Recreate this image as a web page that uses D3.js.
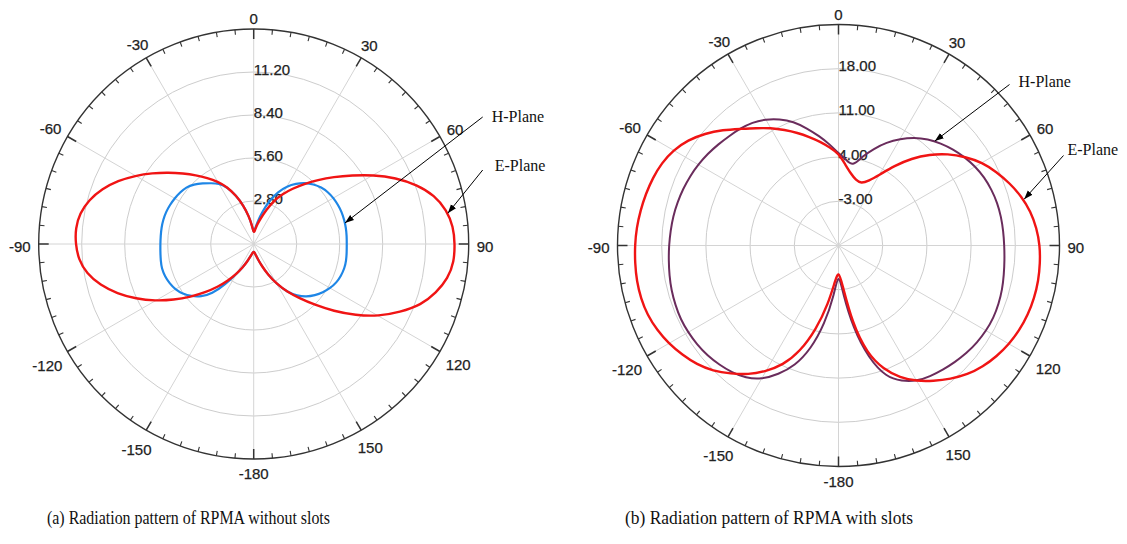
<!DOCTYPE html>
<html><head><meta charset="utf-8">
<script src="https://cdn.jsdelivr.net/npm/d3@7"></script>
<style>body{margin:0;background:#fff}svg{display:block}</style>
</head><body>
<svg id="chart" width="1127" height="544"></svg>
<script>
// Angles in degrees (0 = top, clockwise positive)
const angles = [-175,-170,-165,-160,-155,-150,-145,-140,-135,-130,-125,-120,-115,-110,-105,-100,-95,-90,
  -85,-80,-75,-70,-65,-60,-55,-50,-45,-40,-35,-30,-25,-20,-15,-10,-5,
  0,5,10,15,20,25,30,35,40,45,50,55,60,65,70,75,80,85,90,
  95,100,105,110,115,120,125,130,135,140,145,150,155,160,165,170,175,180];

// (a) without slots
const leftEPlane = [0.55,0.65,0.85,1.2,1.65,2.25,2.9,3.65,4.45,5.35,6.35,7.4,8.45,9.45,10.35,11.05,11.45,11.6,
  11.65,11.5,11.1,10.5,9.75,8.9,8.05,7.25,6.5,5.85,5.25,4.7,4.1,3.35,2.6,1.85,1.2,
  0.7,0.9,1.3,1.7,2.35,3.1,3.75,4.4,5.1,5.9,6.8,7.8,9.0,10.2,11.3,12.2,12.75,13.05,13.1,
  13.1,12.85,12.3,11.6,10.5,9.4,8.1,6.8,5.6,4.6,3.8,3.0,2.2,1.5,1.0,0.7,0.55,0.5];
const leftHPlane = [0.55,0.65,0.85,1.2,1.65,2.25,3.2,4.25,4.85,5.3,5.65,5.9,6.05,6.15,6.2,6.15,6.1,6.08,
  6.08,6.1,6.1,6.08,6.02,5.95,5.85,5.75,5.5,5.16,4.83,4.56,4.1,3.35,2.6,1.85,1.2,
  0.7,1.0,1.5,2.2,3.0,3.75,4.35,4.8,5.2,5.5,5.75,5.9,6.0,6.05,6.1,6.1,6.1,6.08,6.06,
  6.08,6.12,6.12,6.05,5.95,5.75,5.5,5.2,4.85,4.4,3.85,3.0,2.2,1.5,1.0,0.7,0.55,0.5];

// (b) with slots
const rightEPlane = [-4.6,-0.6,3.8,7.9,10.9,13.0,14.95,16.5,18.1,19.3,20.2,21.05,21.7,22.2,22.4,22.45,22.35,22.25,
  22.1,21.85,21.6,21.3,20.9,20.2,19.1,17.6,15.9,14.1,12.7,11.5,10.2,9.0,7.8,6.7,5.6,
  4.6,2.8,1.5,0.7,0.45,1.3,2.9,5.4,8.0,10.4,12.6,14.5,16.3,17.6,18.85,20.0,20.9,21.5,21.9,
  22.05,22.15,22.1,21.95,21.65,21.2,20.6,19.85,18.9,17.6,16.2,14.8,13.1,10.8,7.8,2.45,-4.25,-5.9];
const rightHPlane = [-2.2,2.6,7.0,10.3,12.5,14.5,15.6,16.25,16.7,17.1,17.35,17.5,17.6,17.5,17.4,17.2,17.0,16.85,
  16.7,16.6,16.4,16.2,15.95,15.65,15.3,14.9,14.5,14.2,13.8,13.1,12.1,10.9,9.2,7.6,6.1,
  4.6,3.7,2.7,4.6,6.3,8.0,9.5,10.9,12.0,12.9,13.7,14.4,15.0,15.5,15.8,16.05,16.15,16.2,16.26,
  16.4,16.6,16.85,17.0,17.1,17.0,16.8,16.5,16.1,15.7,15.3,14.8,13.7,12.2,8.5,3.3,-2.6,-5.85];

const leftRadialTicks = [2.8, 5.6, 8.4, 11.2];
const leftRadialLabels = ["2.80", "5.60", "8.40", "11.20"];
const rightRadialTicks = [-3, 4, 11, 18];
const rightRadialLabels = ["-3.00", "4.00", "11.00", "18.00"];
const angleTicks = [0, 30, 60, 90, 120, 150, 180, 210, 240, 270, 300, 330];
const angleTickLabels = ["0", "30", "60", "90", "120", "150", "-180", "-150", "-120", "-90", "-60", "-30"];
const seriesNames = ["H-Plane", "E-Plane"];
const captions = ["(a) Radiation pattern of RPMA without slots", "(b) Radiation pattern of RPMA with slots"];

const svg = d3.select("#chart");
svg.append("rect").attr("width", 1127).attr("height", 544).attr("fill", "#fff");

const defs = svg.append("defs");
defs.append("marker").attr("id", "arrow").attr("viewBox", "0 -4 9 8")
  .attr("refX", 9).attr("refY", 0).attr("markerWidth", 9).attr("markerHeight", 8)
  .attr("markerUnits", "userSpaceOnUse").attr("orient", "auto")
  .append("path").attr("d", "M0,-3.2L9,0L0,3.2Z").attr("fill", "#000");

const rad = d => d * Math.PI / 180;
const sansFont = "'Liberation Sans', Arial, sans-serif";
const serifFont = "'Liberation Serif', 'Times New Roman', serif";

function drawPolar(cfg) {
  const g = svg.append("g").attr("transform", `translate(${cfg.cx},${cfg.cy})`);
  const r = d3.scaleLinear().domain(cfg.domain).range([0, cfg.R]);

  g.selectAll("circle.grid").data(cfg.radialTicks).join("circle")
    .attr("r", d => r(d)).attr("fill", "none").attr("stroke", "#cdcdcd").attr("stroke-width", 1);
  g.selectAll("line.spoke").data(angleTicks).join("line")
    .attr("x1", 0).attr("y1", 0)
    .attr("x2", d => cfg.R * Math.sin(rad(d))).attr("y2", d => -cfg.R * Math.cos(rad(d)))
    .attr("stroke", "#d4d4d4").attr("stroke-width", 1);

  g.append("circle").attr("r", cfg.R).attr("fill", "none").attr("stroke", "#333").attr("stroke-width", 1.4);
  const tickAngles = d3.range(0, 360, 5);
  g.selectAll("line.tick").data(tickAngles).join("line")
    .attr("x1", d => cfg.R * Math.sin(rad(d))).attr("y1", d => -cfg.R * Math.cos(rad(d)))
    .attr("x2", d => (cfg.R - (d % 30 === 0 ? 10 : 5)) * Math.sin(rad(d)))
    .attr("y2", d => -(cfg.R - (d % 30 === 0 ? 10 : 5)) * Math.cos(rad(d)))
    .attr("stroke", "#333").attr("stroke-width", d => d % 30 === 0 ? 1.5 : 1.1);

  angleTicks.forEach((a, i) => {
    const t = g.append("text").text(angleTickLabels[i])
      .attr("font-family", sansFont).attr("font-size", 15)
      .attr("fill", "#222").attr("stroke", "#222").attr("stroke-width", 0.25)
      .attr("text-anchor", "middle").attr("dominant-baseline", "central");
    const w = t.node().getComputedTextLength();
    const s = Math.sin(rad(a)), c = Math.cos(rad(a));
    const dist = cfg.R + 8 + Math.abs(s) * w / 2 + Math.abs(c) * 4.5;
    t.attr("x", dist * s).attr("y", -dist * c + 2);
  });

  g.selectAll("text.rl").data(cfg.radialTicks).join("text")
    .attr("x", 0).attr("y", d => -r(d) + 2.5)
    .attr("font-family", sansFont).attr("font-size", 15)
    .attr("fill", "#222").attr("stroke", "#222").attr("stroke-width", 0.25)
    .text((d, i) => cfg.radialLabels[i]);

  const line = d3.lineRadial()
    .angle(d => rad(d[0])).radius(d => r(d[1]))
    .curve(d3.curveBasisClosed);
  cfg.series.forEach(s => {
    g.append("path").datum(angles.map((a, i) => [a, s.values[i]]))
      .attr("d", line).attr("fill", "none").attr("stroke", s.color)
      .attr("stroke-width", s.width).attr("stroke-linejoin", "round");
  });

  cfg.notes.forEach(n => {
    const tr = r(n.value);
    const tx = tr * Math.sin(rad(n.angle)), ty = -tr * Math.cos(rad(n.angle));
    g.append("line").attr("x1", n.sx).attr("y1", n.sy).attr("x2", tx).attr("y2", ty)
      .attr("stroke", "#000").attr("stroke-width", 1).attr("marker-end", "url(#arrow)");
    g.append("text").attr("x", n.lx).attr("y", n.ly).text(n.label)
      .attr("font-family", serifFont).attr("font-size", 16).attr("fill", "#111");
  });
}

drawPolar({
  cx: 253.7, cy: 244, R: 215, domain: [0, 14],
  radialTicks: leftRadialTicks, radialLabels: leftRadialLabels,
  series: [
    { values: leftHPlane, color: "#1e86e6", width: 2.2 },
    { values: leftEPlane, color: "#f01414", width: 2.4 }
  ],
  notes: [
    { label: seriesNames[0], angle: 77, value: 6.1, sx: 229, sy: -127, lx: 238, ly: -122 },
    { label: seriesNames[1], angle: 81, value: 12.8, sx: 229, sy: -74, lx: 241, ly: -73 }
  ]
});

drawPolar({
  cx: 838.5, cy: 245.5, R: 221, domain: [-10, 25],
  radialTicks: rightRadialTicks, radialLabels: rightRadialLabels,
  series: [
    { values: rightHPlane, color: "#6a2c5c", width: 2 },
    { values: rightEPlane, color: "#f01414", width: 2.4 }
  ],
  notes: [
    { label: seriesNames[0], angle: 42.7, value: 12.5, sx: 171, sy: -161, lx: 180, ly: -159 },
    { label: seriesNames[1], angle: 76, value: 20.3, sx: 225, sy: -90, lx: 229, ly: -91 }
  ]
});

// captions
const capX = [47, 625], capW = [283, 288];
svg.selectAll("text.cap").data(captions).join("text")
  .attr("x", (d, i) => capX[i]).attr("y", 524)
  .attr("textLength", (d, i) => capW[i]).attr("lengthAdjust", "spacingAndGlyphs")
  .attr("font-family", serifFont).attr("font-size", 19)
  .attr("fill", "#111").text(d => d);
</script>
</body></html>
